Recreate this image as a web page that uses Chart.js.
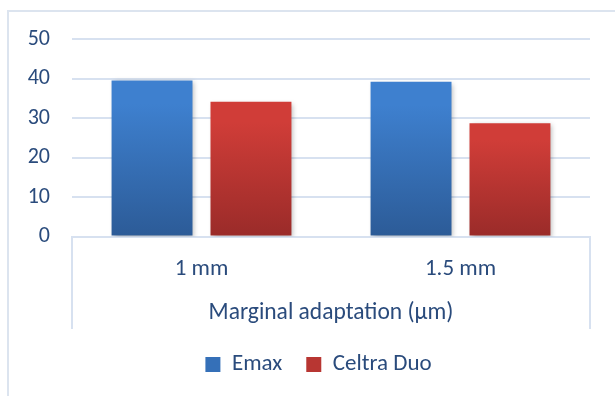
<!DOCTYPE html>
<html>
<head>
<meta charset="utf-8">
<script src="https://cdn.jsdelivr.net/npm/chart.js@4/dist/chart.umd.min.js"></script>
<style>
  html, body { margin: 0; padding: 0; background: #fff; }
  #wrap { position: relative; width: 615px; height: 396px; overflow: hidden; }
  #frame { position: absolute; left: 7px; top: 10px; width: 700px; height: 500px;
           border-top: 2px solid #dce4ef; border-left: 2px solid #dce4ef; box-sizing: border-box; }
  canvas { position: absolute; left: 0; top: 0; }
</style>
</head>
<body>
<div id="wrap">
  <div id="frame"></div>
  <canvas id="c" width="615" height="396"></canvas>
</div>
<script>
const categories = ['1 mm', '1.5 mm'];
const seriesNames = ['Emax', 'Celtra Duo'];
const emaxValues = [39.5, 39.2];
const celtraValues = [34.1, 28.7];
const yTicks = [0, 10, 20, 30, 40, 50];
const axisTitle = 'Marginal adaptation (\u00b5m)';

const FONT = "Carlito, Calibri, Lato, 'Liberation Sans', sans-serif";
const TEXT = '#2a4b7c';
const GRID = '#d7e1f0';

const palettes = [
  { top: '#3e80cf', bottom: '#2c5b97', mid: '#3570b8' },
  { top: '#d03d38', bottom: '#9a2b29', mid: '#b83632' }
];

function barFill(p) {
  return function(ctx) {
    const chart = ctx.chart;
    if (ctx.type !== 'data' || !chart.chartArea || !chart.scales.y) return p.mid;
    const y = chart.scales.y;
    const yTop = y.getPixelForValue(ctx.parsed ? ctx.parsed.y : ctx.raw);
    const yBot = y.getPixelForValue(0);
    const g = chart.ctx.createLinearGradient(0, yTop, 0, yBot);
    g.addColorStop(0, p.top);
    g.addColorStop(0.15, p.top);
    g.addColorStop(1, p.bottom);
    return g;
  };
}

const shadowPlugin = {
  id: 'barShadow',
  beforeDatasetsDraw(chart) {
    const c = chart.ctx;
    c.save();
    c.shadowColor = 'rgba(0,0,0,0.28)';
    c.shadowBlur = 5;
    c.shadowOffsetX = 2;
    c.shadowOffsetY = 2;
  },
  afterDatasetsDraw(chart) { chart.ctx.restore(); }
};

const axisBoxPlugin = {
  id: 'axisBox',
  afterDraw(chart) {
    const x = chart.scales.x;
    const c = chart.ctx;
    c.save();
    c.strokeStyle = GRID;
    c.lineWidth = 2;
    c.beginPath();
    c.moveTo(x.left, x.top);
    c.lineTo(x.left, x.bottom);
    c.moveTo(x.right, x.top);
    c.lineTo(x.right, x.bottom);
    c.stroke();
    c.restore();
  }
};

// Center the legend on the outer frame rather than the canvas
const legendShift = {
  id: 'legendShift',
  afterLayout(chart) {
    if (chart.legend) chart.legend.left += 47;
  }
};

new Chart(document.getElementById('c'), {
  type: 'bar',
  data: {
    labels: categories,
    datasets: [
      { label: seriesNames[0], data: emaxValues, backgroundColor: barFill(palettes[0]), borderWidth: 0 },
      { label: seriesNames[1], data: celtraValues, backgroundColor: barFill(palettes[1]), borderWidth: 0 }
    ]
  },
  options: {
    responsive: false,
    animation: false,
    devicePixelRatio: 1,
    categoryPercentage: 0.764,
    barPercentage: 0.818,
    layout: { padding: { top: 39, right: 25, left: 0, bottom: 10 } },
    plugins: {
      tooltip: { enabled: false },
      legend: {
        position: 'bottom',
        labels: {
          font: { family: FONT, size: 23 },
          color: TEXT,
          boxWidth: 15,
          boxHeight: 15,
          padding: 24,
          generateLabels(chart) {
            return chart.data.datasets.map((ds, i) => ({
              text: ds.label,
              fillStyle: palettes[i].mid,
              strokeStyle: palettes[i].mid,
              lineWidth: 0,
              hidden: false,
              datasetIndex: i,
              fontColor: TEXT
            }));
          }
        }
      }
    },
    scales: {
      y: {
        min: 0,
        max: 50,
        afterFit(scale) { scale.width = 72; },
        afterBuildTicks(scale) { scale.ticks = yTicks.map(v => ({ value: v })); },
        ticks: { font: { family: FONT, size: 22 }, color: TEXT, padding: 22 },
        grid: { color: GRID, lineWidth: 2, drawTicks: false },
        border: { display: false }
      },
      x: {
        afterFit(scale) { scale.height = 92.5; },
        ticks: { font: { family: FONT, size: 23 }, color: TEXT, padding: 18.5 },
        grid: { display: false, drawTicks: false },
        border: { display: true, color: GRID, width: 2 },
        title: {
          display: true,
          text: axisTitle,
          font: { family: FONT, size: 23.5 },
          color: TEXT,
          padding: { top: 0, bottom: 2 }
        }
      }
    }
  },
  plugins: [shadowPlugin, axisBoxPlugin, legendShift]
});
</script>
</body>
</html>
